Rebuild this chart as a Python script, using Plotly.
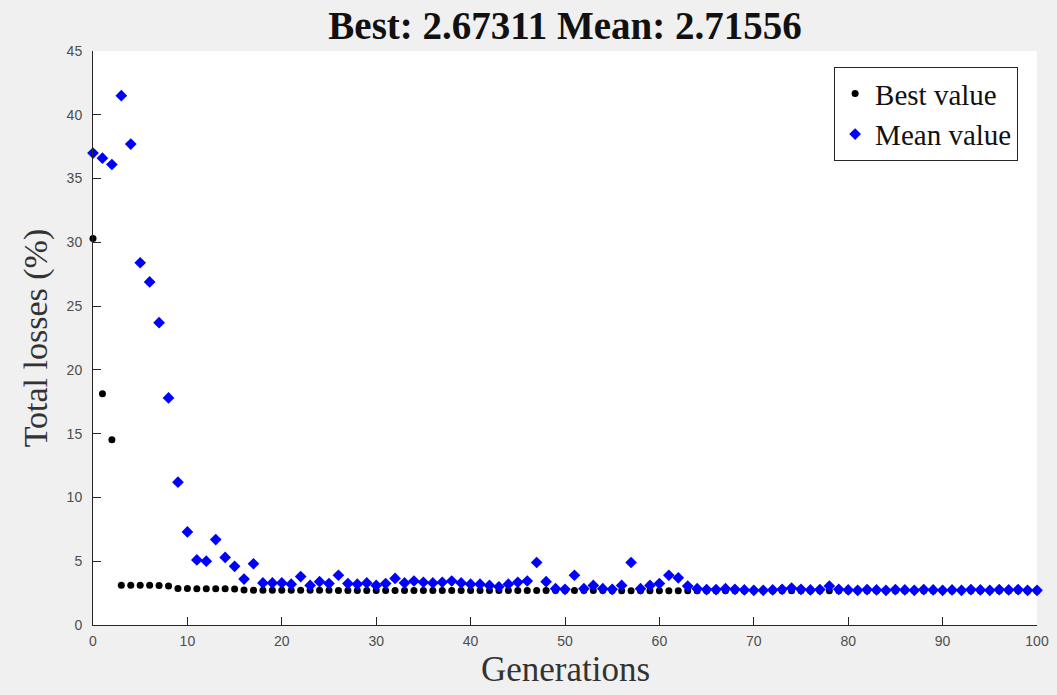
import plotly.graph_objects as go

generations = list(range(0, 101))

best_values = [
    30.3, 18.13, 14.53, 3.12, 3.12, 3.12, 3.12, 3.1, 3.05, 2.86,
    2.86, 2.85, 2.84, 2.84, 2.84, 2.83, 2.74, 2.73, 2.73, 2.73,
    2.72, 2.72, 2.72, 2.72, 2.72, 2.72, 2.71, 2.71, 2.71, 2.71,
    2.71, 2.71, 2.71, 2.71, 2.71, 2.71, 2.71, 2.71, 2.71, 2.70,
    2.70, 2.70, 2.70, 2.70, 2.70, 2.70, 2.70, 2.70, 2.70, 2.70,
    2.70, 2.70, 2.70, 2.70, 2.70, 2.69, 2.69, 2.69, 2.69, 2.69,
    2.69, 2.69, 2.69, 2.69, 2.69, 2.69, 2.69, 2.69, 2.68, 2.68,
    2.68, 2.68, 2.68, 2.68, 2.68, 2.68, 2.68, 2.68, 2.68, 2.68,
    2.68, 2.68, 2.68, 2.68, 2.68, 2.68, 2.68, 2.68, 2.68, 2.68,
    2.68, 2.68, 2.68, 2.68, 2.68, 2.68, 2.68, 2.68, 2.68, 2.67311,
    2.67311,
]

mean_values = [
    37.0, 36.6, 36.1, 41.5, 37.7, 28.4, 26.9, 23.7, 17.8, 11.2,
    7.3, 5.1, 5.0, 6.7, 5.3, 4.6, 3.6, 4.8, 3.3, 3.3,
    3.3, 3.2, 3.8, 3.1, 3.4, 3.25, 3.9, 3.25, 3.2, 3.3,
    3.1, 3.25, 3.65, 3.3, 3.45, 3.35, 3.3, 3.35, 3.45, 3.3,
    3.2, 3.2, 3.1, 3.0, 3.2, 3.35, 3.45, 4.9, 3.4, 2.85,
    2.8, 3.9, 2.85, 3.1, 2.85, 2.8, 3.1, 4.9, 2.85, 3.1,
    3.25, 3.9, 3.7, 3.05, 2.85, 2.78, 2.78, 2.85, 2.8, 2.75,
    2.72, 2.72, 2.75, 2.8, 2.9, 2.8, 2.75, 2.78, 3.05, 2.8,
    2.75, 2.72, 2.78, 2.75, 2.72, 2.78, 2.75, 2.72, 2.78, 2.75,
    2.72, 2.75, 2.72, 2.78, 2.75, 2.72, 2.78, 2.75, 2.78, 2.72,
    2.71556,
]

x_ticks = list(range(0, 101, 10))
y_ticks = list(range(0, 46, 5))

title_text = "Best: 2.67311 Mean: 2.71556"

fig = go.Figure()
fig.add_trace(go.Scatter(
    x=generations, y=best_values, mode="markers", name="Best value",
    marker=dict(symbol="circle", size=7, color="black"),
    cliponaxis=False,
))
fig.add_trace(go.Scatter(
    x=generations, y=mean_values, mode="markers", name="Mean value",
    marker=dict(symbol="diamond", size=9, color="#0000ff"),
    cliponaxis=False,
))

axis_common = dict(
    showline=True, linecolor="#262626", linewidth=1, mirror=False,
    ticks="inside", ticklen=8, tickcolor="#262626", tickwidth=1,
    showgrid=False, zeroline=False, automargin=False,
    tickfont=dict(family="Liberation Sans, Arial, sans-serif", size=14, color="#4d4d4d"),
)

fig.update_layout(
    width=1057, height=695, autosize=False,
    paper_bgcolor="#f0f0f0", plot_bgcolor="white",
    margin=dict(l=93, r=20, t=51, b=70),
    title=dict(
        text="<b>" + title_text + "</b>",
        font=dict(family="Liberation Serif, Times New Roman, serif", size=39, color="#111111"),
        x=0.5, xref="paper", xanchor="center",
        y=1 - 25 / 695, yanchor="middle",
    ),
    xaxis=dict(range=[0, 100], tickvals=x_ticks, ticklabelstandoff=3, **axis_common),
    yaxis=dict(range=[0, 45], tickvals=y_ticks, ticklabelstandoff=7, **axis_common),
    showlegend=True,
    legend=dict(
        x=0.98, xanchor="right", y=0.972, yanchor="top",
        bgcolor="white", bordercolor="#262626", borderwidth=1,
        font=dict(family="Liberation Serif, Times New Roman, serif", size=29, color="#111111"),
        itemwidth=30, tracegroupgap=0,
    ),
    annotations=[
        dict(text="Generations", xref="paper", yref="paper", x=0.5,
             y=-(669 - 625) / 574.0,
             xanchor="center", yanchor="middle", showarrow=False,
             font=dict(family="Liberation Serif, Times New Roman, serif", size=35, color="#333333")),
        dict(text="Total losses (%)", xref="paper", yref="paper", x=-0.06, y=0.5,
             xanchor="center", yanchor="middle", showarrow=False, textangle=-90,
             font=dict(family="Liberation Serif, Times New Roman, serif", size=34, color="#333333")),
    ],
)

fig.write_html("out.html")
